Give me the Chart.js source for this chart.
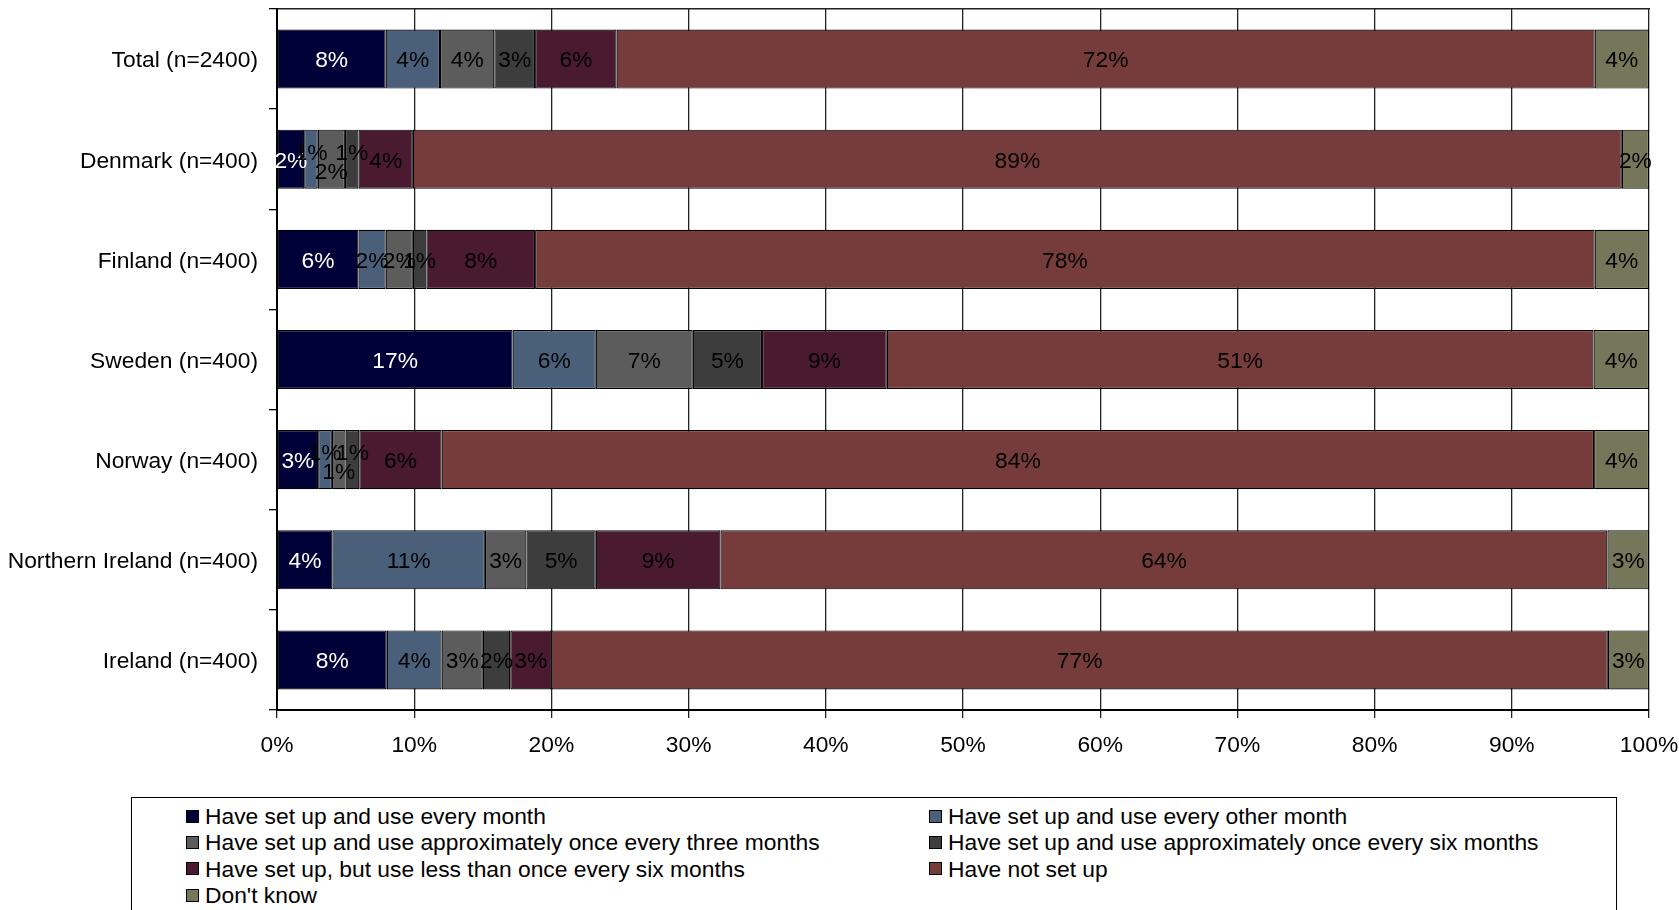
<!DOCTYPE html>
<html>
<head>
<meta charset="utf-8">
<title>Usage frequency by country</title>
<script src="https://cdn.jsdelivr.net/npm/chart.js@4.4.1/dist/chart.umd.min.js"></script>
<style>
  html, body { margin: 0; padding: 0; background: #fff; overflow: hidden; }
  body { width: 1679px; height: 910px; position: relative; font-family: 'Liberation Sans', Arial, sans-serif; }
  #chart-box { position: absolute; left: 0; top: 0; width: 1679px; height: 790px; }
  #legend { position: absolute; left: 131px; top: 797px; width: 1486px; height: 150px; border: 1.5px solid #000; box-sizing: border-box; }
  .legend-item { position: absolute; display: flex; align-items: center; font-size: 22.8px; line-height: 26px; color: #000; white-space: nowrap; }
  .legend-swatch { width: 11px; height: 11px; border: 1px solid #000; margin-right: 6px; }
</style>
</head>
<body>
<div id="chart-box"><canvas id="usageChart"></canvas></div>
<div id="legend"></div>
<script>
const categories = ['Total (n=2400)', 'Denmark (n=400)', 'Finland (n=400)', 'Sweden (n=400)',
    'Norway (n=400)', 'Northern Ireland (n=400)', 'Ireland (n=400)'];

// printed percentages per row (rows don't always add up to exactly 100)
const everyMonth      = [8, 2, 6, 17, 3, 4, 8];
const everyOtherMonth = [4, 1, 2, 6, 1, 11, 4];
const threeMonths     = [4, 2, 2, 7, 1, 3, 3];
const sixMonths       = [3, 1, 1, 5, 1, 5, 2];
const lessThanSix     = [6, 4, 8, 9, 6, 9, 3];
const notSetUp        = [72, 89, 78, 51, 84, 64, 77];
const dontKnow        = [4, 2, 4, 4, 4, 3, 3];

const seriesNames = [
    'Have set up and use every month',
    'Have set up and use every other month',
    'Have set up and use approximately once every three months',
    'Have set up and use approximately once every six months',
    'Have set up, but use less than once every six months',
    'Have not set up',
    "Don't know"
];
const seriesValues = [everyMonth, everyOtherMonth, threeMonths, sixMonths, lessThanSix, notSetUp, dontKnow];
const seriesColors = ['#000038', '#4a5f7a', '#5c5c5c', '#3d3d3d', '#4a1a30', '#763c3c', '#76765a'];

const FONT = "'Liberation Sans', Arial, sans-serif";
const FONT_SIZE = 22.8;

window.addEventListener('load', initialize);

function initialize() {
    const chart = loadUsageChart();
    buildLegend(chart);
}

// 100% stacked: each row is scaled to its own total
function rowTotals() {
    return categories.map((c, row) => seriesValues.reduce((sum, s) => sum + s[row], 0));
}

// no extra room for half-labels, the plot area is placed by layout padding only
function noEdgePadding(scale) {
    scale.paddingTop = 0;
    scale.paddingBottom = 0;
    scale.paddingLeft = 0;
    scale.paddingRight = 0;
}

const barLabels = {
    id: 'barLabels',
    afterDatasetsDraw(chart) {
        const ctx = chart.ctx;
        ctx.save();
        ctx.font = FONT_SIZE + 'px ' + FONT;
        ctx.textAlign = 'center';
        ctx.textBaseline = 'middle';
        for (let row = 0; row < categories.length; row++) {
            const items = [];
            chart.data.datasets.forEach((ds, i) => {
                const bar = chart.getDatasetMeta(i).data[row];
                const text = ds.counts[row] + '%';
                items.push({
                    x: (bar.x + bar.base) / 2,
                    y: bar.y + 2,
                    size: Math.abs(bar.x - bar.base),
                    text: text,
                    w: ctx.measureText(text).width,
                    color: i === 0 ? '#fff' : '#000',
                    dy: 0
                });
            });
            // squeezed label between two thin segments gets pushed down, neighbours up
            for (let i = 1; i < items.length - 1; i++) {
                const lim = items[i].w * 0.6;
                if (items[i - 1].size < lim && items[i + 1].size < lim) {
                    items[i].dy = 11;
                    items[i - 1].dy = -8;
                    items[i + 1].dy = -8;
                }
            }
            for (const it of items) {
                ctx.fillStyle = it.color;
                ctx.fillText(it.text, it.x, it.y + it.dy);
            }
        }
        ctx.restore();
    }
};

function loadUsageChart() {
    const totals = rowTotals();
    const datasets = seriesValues.map((vals, i) => ({
        label: seriesNames[i],
        counts: vals,
        data: vals.map((v, row) => v / totals[row] * 100),
        backgroundColor: seriesColors[i],
        borderColor: '#000',
        borderWidth: 1.2,
        borderSkipped: false,
        barPercentage: 0.59,
        categoryPercentage: 1
    }));

    Chart.defaults.font.family = FONT;
    Chart.defaults.font.size = FONT_SIZE;
    Chart.defaults.color = '#000';

    const ctx = document.getElementById('usageChart').getContext('2d');
    return new Chart(ctx, {
        type: 'bar',
        data: { labels: categories, datasets: datasets },
        options: {
            indexAxis: 'y',
            responsive: true,
            maintainAspectRatio: false,
            animation: false,
            layout: { padding: { top: 9, right: 30, left: 0, bottom: 0 } },
            plugins: {
                legend: { display: false },
                tooltip: { enabled: false }
            },
            scales: {
                x: {
                    stacked: true,
                    min: 0,
                    max: 100,
                    afterFit: s => { s.height = 80; noEdgePadding(s); },
                    ticks: { stepSize: 10, padding: 14, maxRotation: 0, callback: v => v + '%' },
                    grid: { color: '#222', lineWidth: 1.3, tickLength: 8 },
                    border: { color: '#000', width: 2 }
                },
                top: {
                    type: 'linear',
                    position: 'top',
                    min: 0,
                    max: 100,
                    afterFit: s => { s.height = 0; noEdgePadding(s); },
                    ticks: { display: false },
                    grid: { display: false },
                    border: { color: '#222', width: 1.5 }
                },
                y: {
                    stacked: true,
                    afterFit: s => { s.width = 277; noEdgePadding(s); },
                    ticks: { padding: 11, labelOffset: 2 },
                    grid: { drawOnChartArea: false, color: '#000', tickLength: 8, lineWidth: 1.3 },
                    border: { color: '#000', width: 2 }
                }
            }
        },
        plugins: [barLabels]
    });
}

function buildLegend(chart) {
    const box = document.getElementById('legend');
    chart.data.datasets.forEach((ds, i) => {
        const item = document.createElement('div');
        item.className = 'legend-item';
        item.style.left = (i % 2 === 0 ? 54 : 797) + 'px';
        item.style.top = (5 + Math.floor(i / 2) * 26.4) + 'px';
        const swatch = document.createElement('span');
        swatch.className = 'legend-swatch';
        swatch.style.background = ds.backgroundColor;
        item.appendChild(swatch);
        item.appendChild(document.createTextNode(ds.label));
        box.appendChild(item);
    });
}
</script>
</body>
</html>
